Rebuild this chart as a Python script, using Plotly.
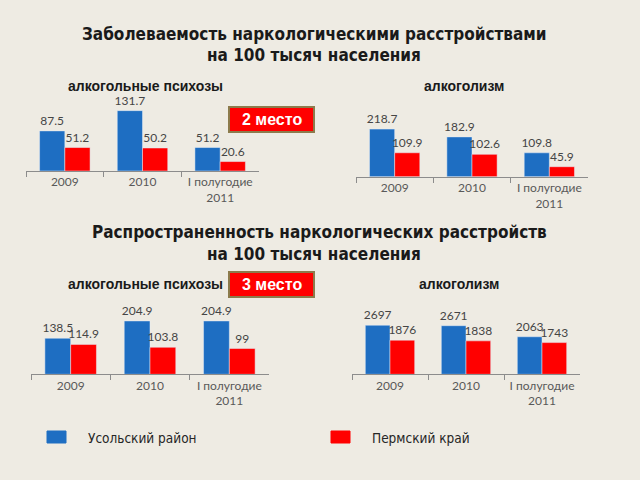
import plotly.graph_objects as go

# categories
periods = ["2009", "2010", "I полугодие<br>2011"]

# Заболеваемость (incidence)
inc_psych_usolye = [87.5, 131.7, 51.2]
inc_psych_perm = [51.2, 50.2, 20.6]
inc_alc_usolye = [218.7, 182.9, 109.8]
inc_alc_perm = [109.9, 102.6, 45.9]

# Распространенность (prevalence)
prev_psych_usolye = [138.5, 204.9, 204.9]
prev_psych_perm = [114.9, 103.8, 99]
prev_alc_usolye = [2697, 2671, 2063]
prev_alc_perm = [1876, 1838, 1743]

region_names = ["Усольский район", "Пермский край"]

BG = "#EEEBE3"
BLUE = "#1E6EC2"
RED = "#FF0000"
W, H = 640, 480
NARROW = "Liberation Sans Narrow, Arial Narrow, DejaVu Sans Condensed, Roboto, sans-serif"
LABEL = "Lato, Open Sans, sans-serif"


def px_x(x):
    return x / W


def px_y(y):
    return 1 - y / H


fig = go.Figure()

panels = [
    # series, axis suffix, x px span, y px (axis, top), y max
    (inc_psych_usolye, inc_psych_perm, "", (26, 259), (171, 105), 144),
    (inc_alc_usolye, inc_alc_perm, "2", (356, 588), (176.7, 111.4), 300),
    (prev_psych_usolye, prev_psych_perm, "3", (31, 269), (374.3, 309.2), 250),
    (prev_alc_usolye, prev_alc_perm, "4", (352, 580), (374.3, 308.8), 3600),
]

layout_axes = {}
for blue_vals, red_vals, sfx, xs, ys, ymax in panels:
    for vals, color, name in [(blue_vals, BLUE, region_names[0]), (red_vals, RED, region_names[1])]:
        fig.add_trace(go.Bar(
            x=periods, y=vals, name=name, marker_color=color,
            text=[f"{v:g}" for v in vals], textposition="outside",
            constraintext="none", cliponaxis=False,
            textfont=dict(family=LABEL, size=12, color="#454545"),
            xaxis="x" + sfx, yaxis="y" + sfx, showlegend=False,
        ))
    layout_axes["xaxis" + sfx] = dict(
        domain=[px_x(xs[0]), px_x(xs[1])], anchor="y" + sfx, type="category",
        showline=True, linecolor="#8C8C8C", linewidth=1,
        ticks="outside", tickson="boundaries", ticklen=5, tickcolor="#8C8C8C",
        showgrid=False, tickfont=dict(family=LABEL, size=12, color="#595959"),
    )
    layout_axes["yaxis" + sfx] = dict(
        domain=[px_y(ys[0]), px_y(ys[1])], anchor="x" + sfx,
        range=[0, ymax], visible=False,
    )

annotations = []
shapes = []


def text(x, y, s, size, family, color="#1A1A1A", bold=False, xanchor="center"):
    annotations.append(dict(
        x=px_x(x), y=px_y(y), xref="paper", yref="paper", showarrow=False,
        text=f"<b>{s}</b>" if bold else s, xanchor=xanchor, yanchor="middle",
        font=dict(family=family, size=size, color=color),
    ))


# titles
text(314, 34, "Заболеваемость наркологическими расстройствами", 17, NARROW, bold=True)
text(314, 55, "на 100 тысяч населения", 17, NARROW, bold=True)
text(319, 232, "Распространенность наркологических расстройств", 17, NARROW, bold=True)
text(314, 254, "на 100 тысяч населения", 17, NARROW, bold=True)

# panel subtitles
text(145, 86, "алкогольные психозы", 14, "Liberation Sans", bold=True)
text(464, 86, "алкоголизм", 14, "Liberation Sans", bold=True)
text(145, 284, "алкогольные психозы", 14, "Liberation Sans", bold=True)
text(459, 284, "алкоголизм", 14, "Liberation Sans", bold=True)

# rank badges
for y0, y1, label in [(107, 132, "2 место"), (272, 297, "3 место")]:
    shapes.append(dict(type="rect", xref="paper", yref="paper",
                       x0=px_x(229), x1=px_x(314), y0=px_y(y1), y1=px_y(y0),
                       fillcolor=RED, line=dict(color="#8C7B4C", width=2)))
    text(271.5, (y0 + y1) / 2, label, 16, "Liberation Sans", color="white", bold=True)

# legend
for x0, color, name in [(47, BLUE, region_names[0]), (331, RED, region_names[1])]:
    shapes.append(dict(type="rect", xref="paper", yref="paper",
                       x0=px_x(x0), x1=px_x(x0 + 19), y0=px_y(443), y1=px_y(431),
                       fillcolor=color, line=dict(color=color, width=1)))
    text(x0 + 39, 438, name, 13.5, NARROW, color="#262626", xanchor="left")

fig.update_layout(
    width=W, height=H, margin=dict(l=0, r=0, t=0, b=0),
    paper_bgcolor=BG, plot_bgcolor=BG,
    barmode="group", bargap=0.35, bargroupgap=0,
    annotations=annotations, shapes=shapes,
    **layout_axes,
)

fig.write_html("out.html", config={"displayModeBar": False},
               post_script="document.body.style.margin='0px';")
